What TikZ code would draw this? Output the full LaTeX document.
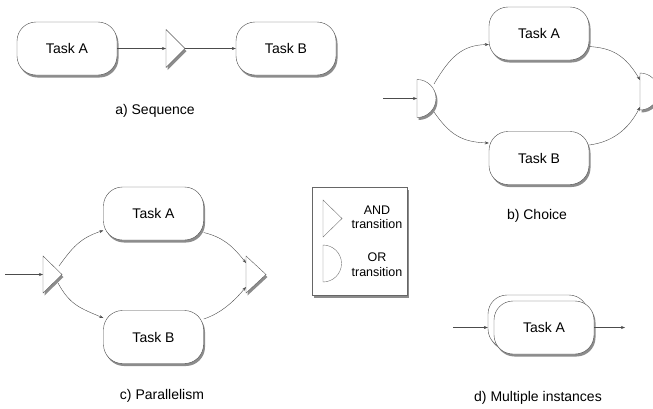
\documentclass[tikz,border=0pt]{standalone}
\usepackage{fontspec}
\setmainfont{Liberation Sans}
\usetikzlibrary{shadows,arrows.meta,calc}
\begin{document}
\begin{tikzpicture}[x=1pt,y=-1pt,
  shadowed/.style={drop shadow={shadow xshift=1.5pt,shadow yshift=-2.5pt,opacity=0.45,fill=black}},
  task/.style={draw=black!70,fill=white,rounded corners=19pt,minimum width=100pt,minimum height=53pt,inner sep=0pt,font=\fontsize{14}{16}\selectfont,shadowed},
  gate/.style={draw=black!65,fill=white,shadowed},
  legendgate/.style={draw=black!55,fill=white},
  conn/.style={draw=black!70,line width=0.4pt,-{Stealth[length=4pt,width=3pt]}},
  caption/.style={font=\fontsize{14}{16}\selectfont},
  legendtext/.style={font=\fontsize{12.5}{14.5}\selectfont,align=center}]
\useasboundingbox (0,0) rectangle (653,408);

% ---------- a) Sequence ----------
\node[task] (aA) at (67,48.5) {Task A};
\node[task] (aB) at (286,48.5) {Task B};
\filldraw[gate] (166,29.5) -- (185,48.5) -- (166,67.5) -- cycle;
\coordinate (aGin) at (166,48.5);
\coordinate (aGout) at (185,48.5);
\draw[conn] (aA.east) -- (aGin);
\draw[conn] (aGout) -- (aB.west);
\node[caption] (capa) at (155,111) {a) Sequence};

% ---------- b) Choice ----------
\node[task] (bA) at (539,33.5) {Task A};
\node[task] (bB) at (539,158) {Task B};
\filldraw[gate] (417,79.5) arc[start angle=-90,end angle=90,radius=19] -- cycle;
\filldraw[gate] (640,73) arc[start angle=-90,end angle=90,radius=18.5] -- cycle;
\coordinate (bIn) at (383,98.5);
\coordinate (bL) at (417,98.5);
\coordinate (bLu) at (434,84);
\coordinate (bLd) at (434,112);
\coordinate (bRu) at (640,80);
\coordinate (bRd) at (640,107);
\draw[conn] (bIn) -- (bL);
\draw[conn] (bLu) .. controls (450,57) and (462,45) .. ($(bA.west)+(0,11)$);
\draw[conn] (bLd) .. controls (450,135) and (462,142) .. ($(bB.west)+(0,-15)$);
\draw[conn] ($(bA.east)+(0,13)$) .. controls (612,48) and (625,55) .. (bRu);
\draw[conn] ($(bB.east)+(0,-13)$) .. controls (612,142) and (628,130) .. (bRd);
\node[caption] (capb) at (537,216) {b) Choice};

% ---------- c) Parallelism ----------
\node[task] (cA) at (153.5,213.5) {Task A};
\node[task] (cB) at (153.5,337) {Task B};
\filldraw[gate] (43,256) -- (62,274.5) -- (43,293) -- cycle;
\filldraw[gate] (246,256) -- (266,274.5) -- (246,293) -- cycle;
\coordinate (cIn) at (5,274.5);
\coordinate (cL) at (43,274.5);
\coordinate (cLu) at (59,266);
\coordinate (cLd) at (58,283);
\coordinate (cRu) at (246,263);
\coordinate (cRd) at (246,287);
\draw[conn] (cIn) -- (cL);
\draw[conn] (cLu) .. controls (72,248) and (80,238) .. ($(cA.west)+(0,17)$);
\draw[conn] (cLd) .. controls (70,305) and (80,308) .. ($(cB.west)+(0,-19)$);
\draw[conn] ($(cA.east)+(0,19)$) .. controls (222,237) and (232,245) .. (cRu);
\draw[conn] ($(cB.east)+(0,-18)$) .. controls (222,313) and (235,300) .. (cRd);
\node[caption] (capc) at (162,396) {c) Parallelism};

% ---------- Legend ----------
\node[draw=black!60,fill=white,minimum width=95pt,minimum height=108pt,inner sep=0pt,shadowed] (legend) at (359.5,241) {};
\draw[legendgate] (323,200) -- (342,218.5) -- (323,237) -- cycle;
\draw[legendgate] (323,245) arc[start angle=-90,end angle=90,radius=18.5] -- cycle;
\node[legendtext] (land) at (377,217.5) {AND\\transition};
\node[legendtext] (lor) at (377,264.5) {OR\\transition};

% ---------- d) Multiple instances ----------
\node[task] (dBack) at (538,321.5) {};
\node[task] (dA) at (544,327.5) {Task A};
\coordinate (dIn) at (453,327.5);
\coordinate (dOut) at (625,327.5);
\draw[conn] (dIn) -- (dBack.west |- dIn);
\draw[conn] (dA.east) -- (dOut);
\node[caption] (capd) at (538,398) {d) Multiple instances};
\end{tikzpicture}
\end{document}
